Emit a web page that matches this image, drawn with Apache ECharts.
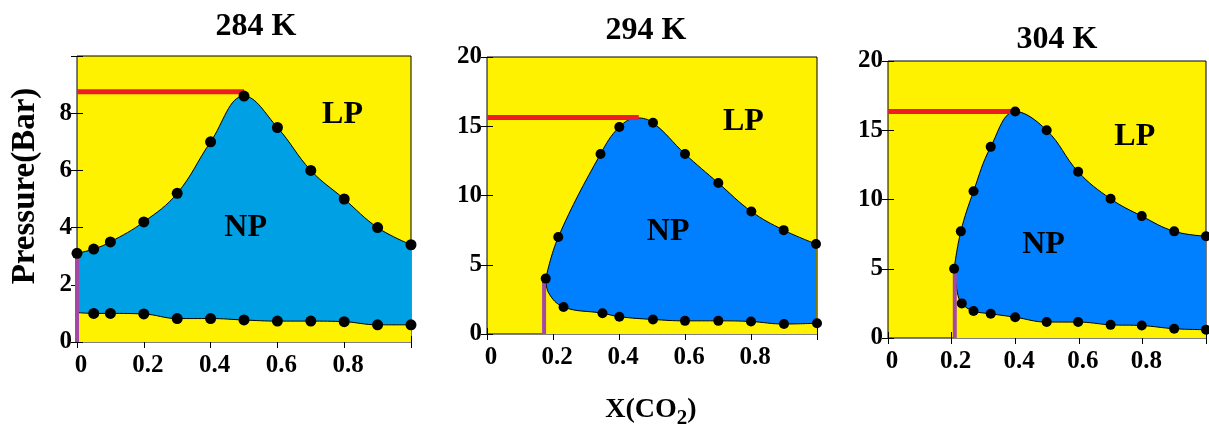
<!DOCTYPE html>
<html>
  <head>
    <meta charset="utf-8" />
    <title>CO2 phase diagrams</title>
    <script src="https://cdn.jsdelivr.net/npm/echarts/dist/echarts.min.js"></script>
    <style>
      body { margin: 0; background: #fff; }
    </style>
  </head>
  <body>
    <div id="main" style="width: 1209px; height: 433px;"></div>
    <script type="text/javascript">
      var myChart = echarts.init(document.getElementById('main'));

      var panelTitles = ['284 K', '294 K', '304 K'];

      // 284 K
      var p1UpperX = [0, 0.05, 0.1, 0.2, 0.3, 0.4, 0.5, 0.6, 0.7, 0.8, 0.9, 1.0];
      var p1UpperY = [3.1, 3.25, 3.5, 4.2, 5.2, 7.0, 8.6, 7.5, 6.0, 5.0, 4.0, 3.4];
      var p1LowerX = [0.05, 0.1, 0.2, 0.3, 0.4, 0.5, 0.6, 0.7, 0.8, 0.9, 1.0];
      var p1LowerY = [1.0, 1.0, 0.98, 0.82, 0.82, 0.77, 0.73, 0.73, 0.71, 0.6, 0.6];
      var p1LowerStart = [[0, 1.03]];
      var p1Red = [0.5, 8.75];
      var p1Purple = [0, 3.0];

      // 294 K
      var p2UpperX = [0.178, 0.216, 0.344, 0.401, 0.503, 0.6, 0.701, 0.801, 0.899, 0.997];
      var p2UpperY = [4.0, 7.0, 13.0, 14.95, 15.25, 13.0, 10.9, 8.85, 7.5, 6.5];
      var p2UpperPeak = [[0.455, 15.6]];
      var p2LowerX = [0.232, 0.35, 0.401, 0.503, 0.6, 0.701, 0.8, 0.9, 1.0];
      var p2LowerY = [1.95, 1.5, 1.25, 1.05, 0.95, 0.95, 0.9, 0.72, 0.78];
      var p2LowerStart = [[0.178, 4.0], [0.186, 3.0]];
      var p2Red = [0.46, 15.63];
      var p2Purple = [0.173, 3.9];

      // 304 K
      var p3UpperX = [0.208, 0.229, 0.269, 0.323, 0.4, 0.499, 0.598, 0.7, 0.798, 0.9, 1.0];
      var p3UpperY = [5.0, 7.7, 10.6, 13.8, 16.35, 15.0, 12.0, 10.05, 8.8, 7.7, 7.35];
      var p3UpperPeak = [];
      var p3LowerX = [0.232, 0.269, 0.323, 0.4, 0.499, 0.598, 0.7, 0.798, 0.9, 1.0];
      var p3LowerY = [2.5, 1.95, 1.75, 1.5, 1.15, 1.15, 0.95, 0.9, 0.67, 0.6];
      var p3LowerStart = [[0.208, 5.0], [0.218, 3.3]];
      var p3Red = [0.41, 16.35];
      var p3Purple = [0.21, 5.0];

      var regionLabels = [
        [{ name: 'LP', value: [0.795, 7.93] }, { name: 'NP', value: [0.505, 4.0] }],
        [{ name: 'LP', value: [0.777, 15.3] }, { name: 'NP', value: [0.549, 7.37] }],
        [{ name: 'LP', value: [0.776, 14.5] }, { name: 'NP', value: [0.489, 6.73] }]
      ];

      var FONT = '"Liberation Serif", "Times New Roman", serif';
      var YELLOW = '#FFF200';
      var blues = ['#00A0E4', '#0080FF', '#0080FF'];
      var dotSizes = [11, 10, 10];

      function pairs(xs, ys) {
        return xs.map(function (x, i) { return [x, ys[i]]; });
      }
      function byX(a, b) { return a[0] - b[0]; }

      var panels = [
        { upper: pairs(p1UpperX, p1UpperY), upperKnots: [], lower: pairs(p1LowerX, p1LowerY), lowerKnots: p1LowerStart, red: p1Red, purple: p1Purple, yMax: 10, yInt: 2 },
        { upper: pairs(p2UpperX, p2UpperY), upperKnots: p2UpperPeak, lower: pairs(p2LowerX, p2LowerY), lowerKnots: p2LowerStart, red: p2Red, purple: p2Purple, yMax: 20, yInt: 5 },
        { upper: pairs(p3UpperX, p3UpperY), upperKnots: p3UpperPeak, lower: pairs(p3LowerX, p3LowerY), lowerKnots: p3LowerStart, red: p3Red, purple: p3Purple, yMax: 20, yInt: 5 }
      ];

      var grids = [
        { left: 77, top: 56, width: 334, height: 286 },
        { left: 487, top: 57, width: 330, height: 277 },
        { left: 888, top: 61, width: 327, height: 277 }
      ];

      var xAxes = [], yAxes = [], series = [];

      panels.forEach(function (p, i) {
        grids[i].show = true;
        grids[i].backgroundColor = YELLOW;
        grids[i].borderColor = '#000';
        grids[i].borderWidth = 1;

        var labelStyle = { color: '#000', fontFamily: FONT, fontWeight: 'bold', fontSize: 25 };
        xAxes.push({
          type: 'value', gridIndex: i, min: 0, max: 1, interval: 0.2, position: 'bottom',
          axisLine: { show: false }, splitLine: { show: false },
          axisTick: { inside: true, length: 6, lineStyle: { color: '#000' } },
          axisLabel: Object.assign({
            margin: 11, padding: [0, 0, 0, 8], showMaxLabel: true,
            formatter: function (v) { return v >= 0.99 ? '' : String(Math.round(v * 10) / 10); }
          }, labelStyle)
        });
        xAxes.push({
          type: 'value', gridIndex: i, min: 0, max: 1, interval: 0.2, position: 'top',
          axisLine: { show: false }, splitLine: { show: false }, axisLabel: { show: false },
          axisTick: { inside: true, length: 6, lineStyle: { color: '#000' } }
        });
        yAxes.push({
          type: 'value', gridIndex: i, min: 0, max: p.yMax, interval: p.yInt, position: 'left',
          axisLine: { show: false }, splitLine: { show: false },
          axisTick: { inside: true, length: 6, lineStyle: { color: '#000' } },
          axisLabel: Object.assign({
            margin: 5,
            formatter: function (v) { return (p.yMax === 10 && v === 10) ? '' : String(v); }
          }, labelStyle)
        });
        yAxes.push({
          type: 'value', gridIndex: i, min: 0, max: p.yMax, interval: p.yInt, position: 'right',
          axisLine: { show: false }, splitLine: { show: false }, axisLabel: { show: false },
          axisTick: { inside: true, length: 6, lineStyle: { color: '#000' } }
        });

        var xi = 2 * i, yi = 2 * i;
        var upperCurve = p.upper.concat(p.upperKnots).sort(byX);
        var lowerCurve = p.lower.concat(p.lowerKnots).sort(byX);

        series.push({
          type: 'line', xAxisIndex: xi, yAxisIndex: yi, data: upperCurve,
          smooth: 0.4, showSymbol: false, z: 2,
          lineStyle: { color: '#000', width: 1 },
          areaStyle: { color: blues[i], opacity: 1 }
        });
        series.push({
          type: 'line', xAxisIndex: xi, yAxisIndex: yi, data: lowerCurve,
          smooth: 0.4, showSymbol: false, z: 3,
          lineStyle: { color: '#000', width: 1 },
          areaStyle: { color: YELLOW, opacity: 1 }
        });
        series.push({
          type: 'line', xAxisIndex: xi, yAxisIndex: yi, clip: false,
          data: [[0, p.red[1]], [p.red[0], p.red[1]]],
          showSymbol: false, z: 4, lineStyle: { color: '#EE1C25', width: 5 }
        });
        series.push({
          type: 'line', xAxisIndex: xi, yAxisIndex: yi, clip: false,
          data: [[p.purple[0], 0], [p.purple[0], p.purple[1]]],
          showSymbol: false, z: 4, lineStyle: { color: '#A349A4', width: 4 }
        });
        series.push({
          type: 'scatter', xAxisIndex: xi, yAxisIndex: yi, data: p.upper.concat(p.lower),
          symbolSize: dotSizes[i], z: 5, itemStyle: { color: '#000', opacity: 1 }
        });
        series.push({
          type: 'scatter', xAxisIndex: xi, yAxisIndex: yi, data: regionLabels[i],
          symbolSize: 0, z: 6, itemStyle: { opacity: 1 },
          label: {
            show: true, position: 'inside', formatter: '{b}', textBorderWidth: 0,
            color: '#000', fontFamily: FONT, fontWeight: 'bold', fontSize: 32
          }
        });
      });

      var titleCenters = [[256, 27], [646, 31], [1057, 40]];
      var graphics = panelTitles.map(function (t, i) {
        return {
          type: 'text', x: titleCenters[i][0], y: titleCenters[i][1],
          style: { text: t, align: 'center', verticalAlign: 'middle', fill: '#000', font: 'bold 32px ' + FONT }
        };
      });
      graphics.push({
        type: 'text', x: 25, y: 186, rotation: Math.PI / 2,
        style: { text: 'Pressure(Bar)', align: 'center', verticalAlign: 'middle', fill: '#000', font: 'bold 33px ' + FONT }
      });
      graphics.push({
        type: 'text', x: 651, y: 410,
        style: {
          text: 'X(CO{s|2})', align: 'center', verticalAlign: 'middle', fill: '#000',
          font: 'bold 28px ' + FONT,
          rich: { s: { fontFamily: FONT, fontWeight: 'bold', fontSize: 21, padding: [18, 0, 0, 0] } }
        }
      });

      var option = {
        animation: false,
        grid: grids,
        xAxis: xAxes,
        yAxis: yAxes,
        series: series,
        graphic: graphics
      };

      myChart.setOption(option);
    </script>
  </body>
</html>
